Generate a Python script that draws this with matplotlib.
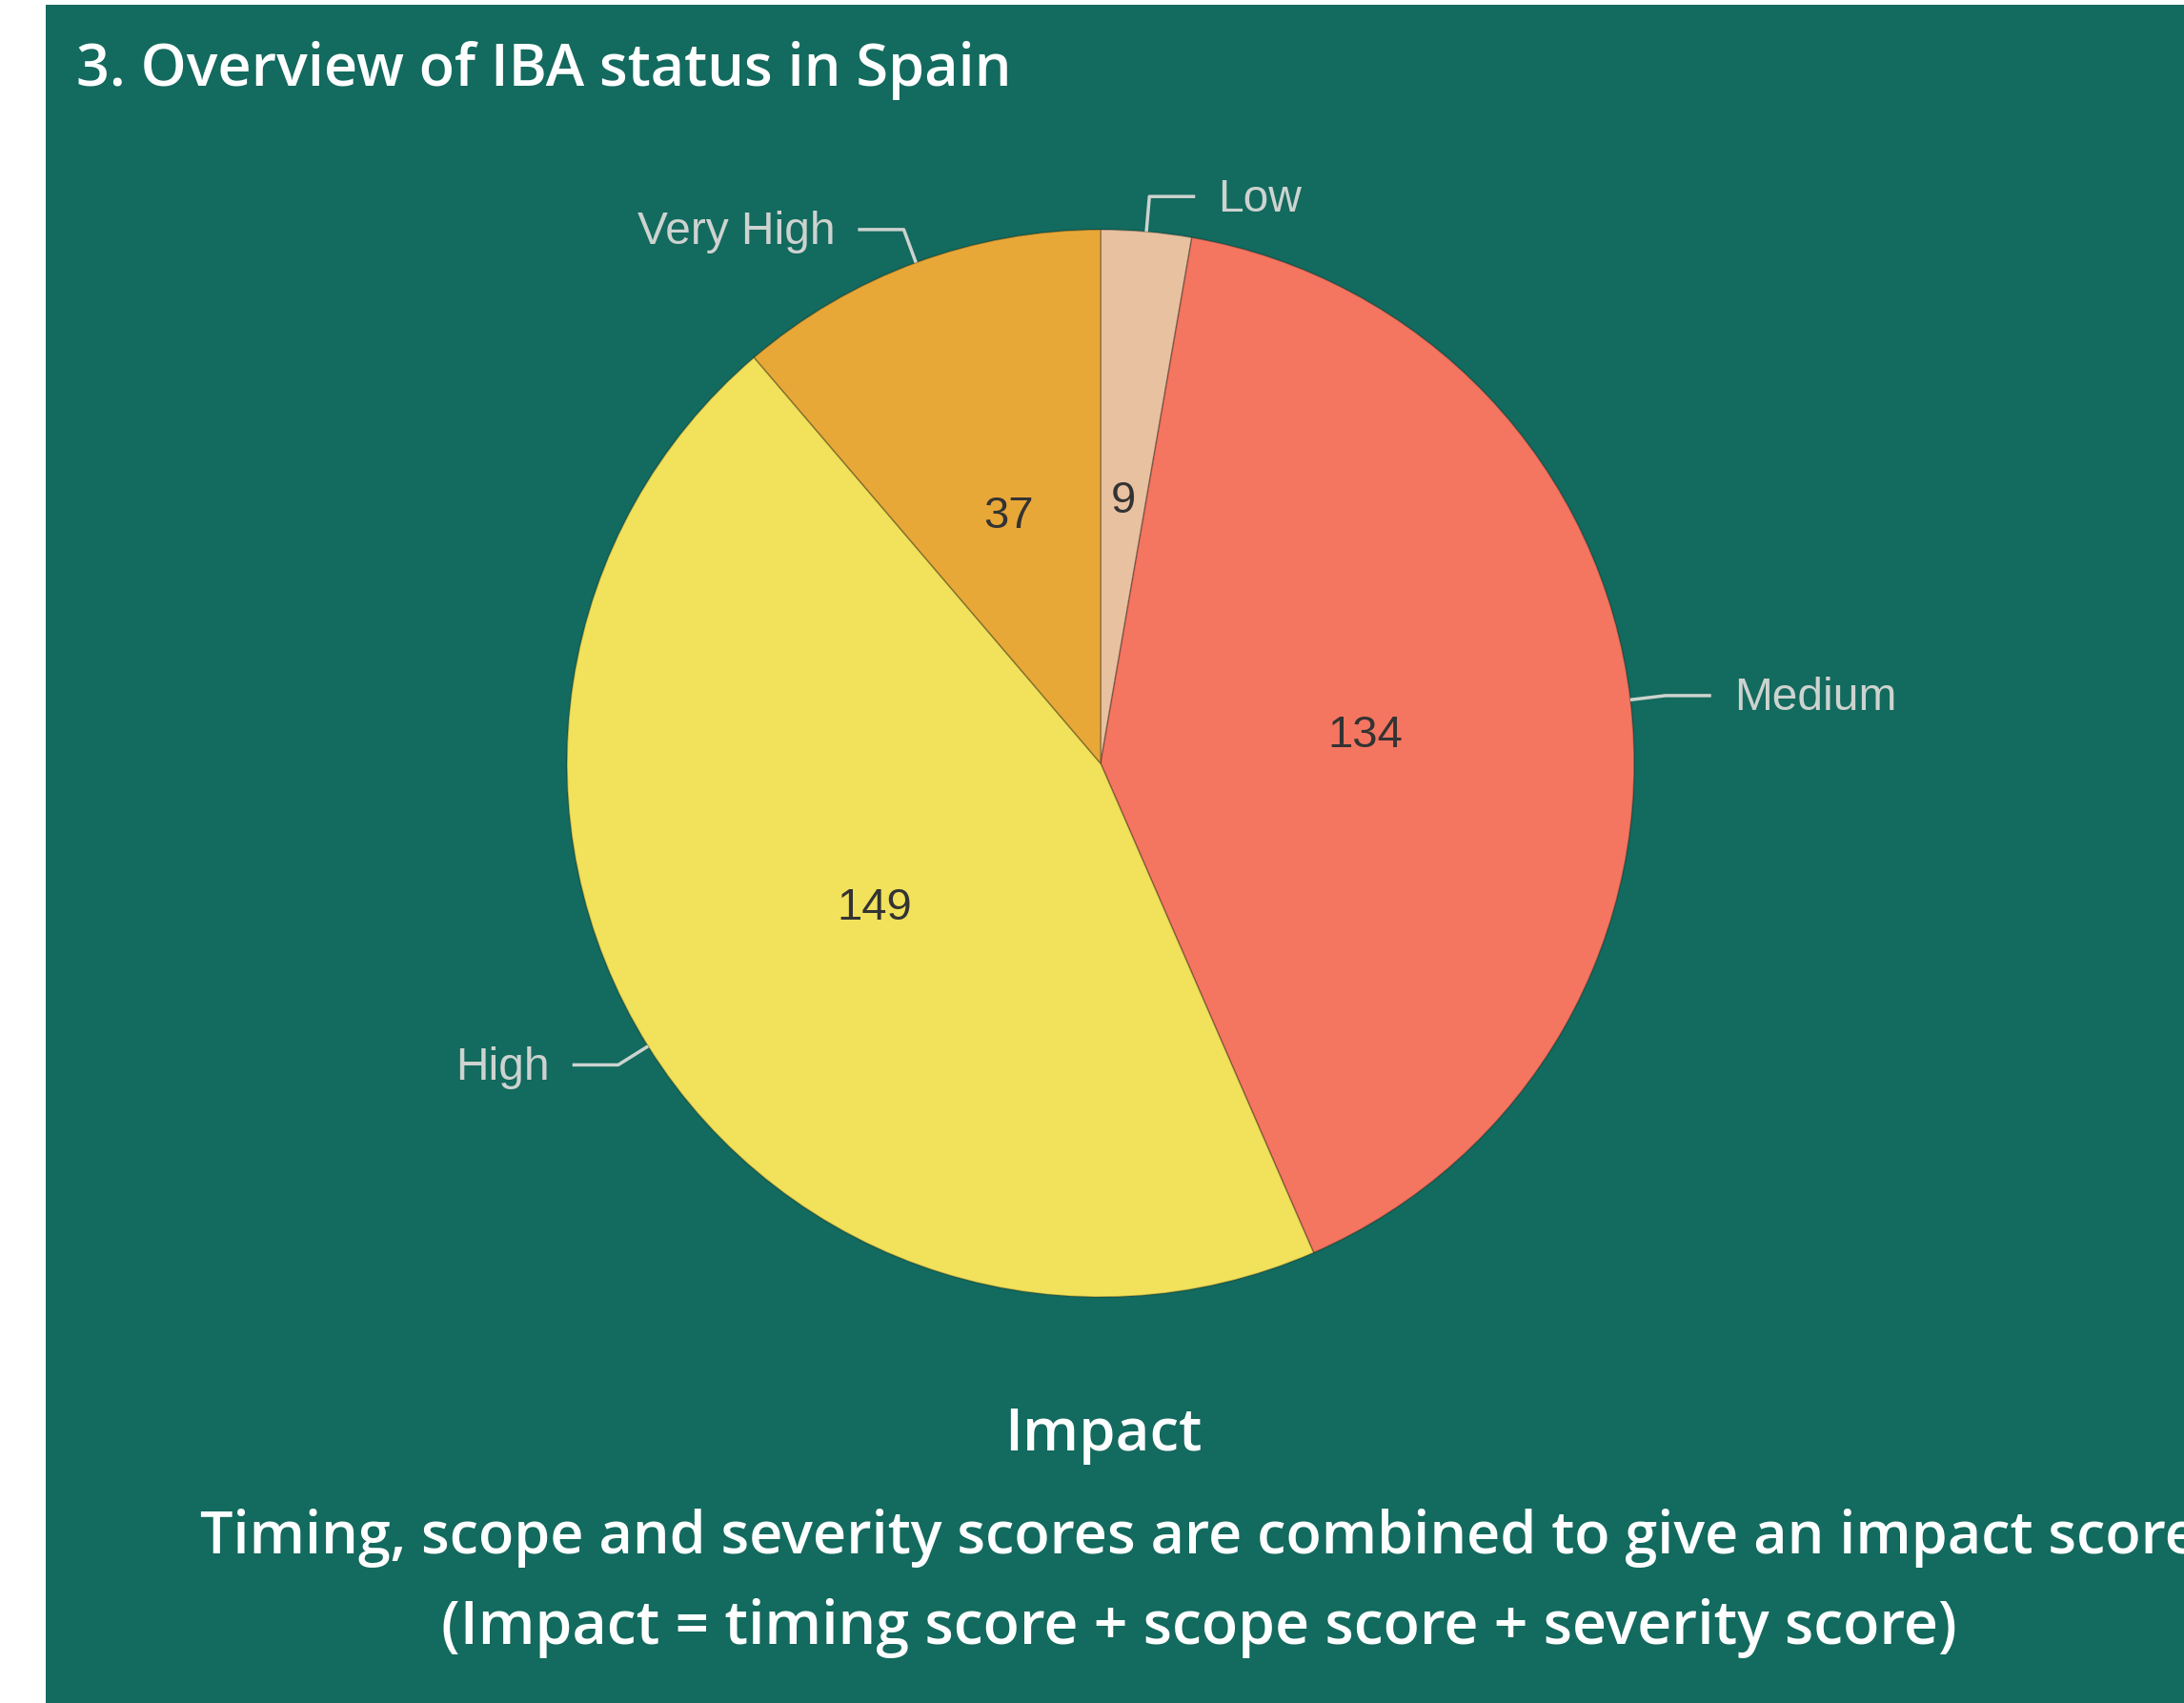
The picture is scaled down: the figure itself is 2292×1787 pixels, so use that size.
"""
Impact overview pie chart - IBA status in Spain
"""
import numpy as np
import matplotlib
matplotlib.use("Agg")
import matplotlib.pyplot as plt
from matplotlib.patches import Rectangle

# data
categories = ["Low", "Medium", "High", "Very High"]
counts = [9, 134, 149, 37]
colors = ["#e8c1a0", "#f47560", "#f1e15b", "#e8a838"]

title = "3. Overview of IBA status in Spain"
footer_title = "Impact"
footer_lines = [
    "Timing, scope and severity scores are combined to give an impact score",
    "(Impact = timing score + scope score + severity score)",
]

W, H = 2292, 1787
BG = "#136a5e"
LABEL_C = "#cdd3cf"

fig = plt.figure(figsize=(W / 100, H / 100), dpi=100)
fig.patch.set_facecolor("white")
ax = fig.add_axes([0, 0, 1, 1])
ax.set_xlim(0, W)
ax.set_ylim(0, H)
ax.set_aspect("equal")
ax.axis("off")

# teal panel
ax.add_patch(Rectangle((48, 0), W - 48, H - 5, facecolor=BG, edgecolor="none", zorder=0))

cx, cy, R = 1155, H - 801, 560

wedges, _, autotexts = ax.pie(
    counts, colors=colors, startangle=90, counterclock=False,
    center=(cx, cy), radius=R, autopct=lambda p: f"{p * sum(counts) / 100:.0f}",
    pctdistance=0.5, labels=None, frame=True,
    wedgeprops=dict(linewidth=1.2, edgecolor=(0, 0, 0, 0.25)),
    textprops=dict(family="Liberation Sans", fontsize=34, color="#333333"),
)
for t in autotexts:
    t.set_va("center")
    x, y = t.get_position()
    t.set_position((x, y - 4))
ax.set_xlim(0, W)
ax.set_ylim(0, H)
ax.axis("off")

# link labels
diag, straight, gap = 37, 48, 24
for w, name in zip(wedges, categories):
    ang = np.deg2rad((w.theta1 + w.theta2) / 2)
    x0, y0 = cx + R * np.cos(ang), cy + R * np.sin(ang)
    x1, y1 = cx + (R + diag) * np.cos(ang), cy + (R + diag) * np.sin(ang)
    side = 1 if np.cos(ang) >= 0 else -1
    x2 = x1 + side * straight
    ax.plot([x0, x1, x2], [y0, y1, y1], color=LABEL_C, lw=2.5, solid_capstyle="butt", zorder=3)
    ax.text(x2 + side * gap, y1 - 3, name, ha="left" if side > 0 else "right", va="center",
            family="Liberation Sans", fontsize=34.5, color=LABEL_C, zorder=4)

# title
ax.text(80, H - 90, title, ha="left", va="baseline", family="Open Sans",
        fontweight="semibold", fontsize=44, color="white")

# footer (first line runs past the right edge, as in the source)
ax.text(1158, H - 1522, footer_title, ha="center", va="baseline", family="Open Sans",
        fontweight="semibold", fontsize=44.5, color="white")
ax.text(1258, H - 1630, footer_lines[0], ha="center", va="baseline", family="Open Sans",
        fontweight="semibold", fontsize=44, color="white")
ax.text(1258, H - 1725, footer_lines[1], ha="center", va="baseline", family="Open Sans",
        fontweight="semibold", fontsize=45, color="white")

fig.savefig("out.png", dpi=100, facecolor=fig.get_facecolor())
